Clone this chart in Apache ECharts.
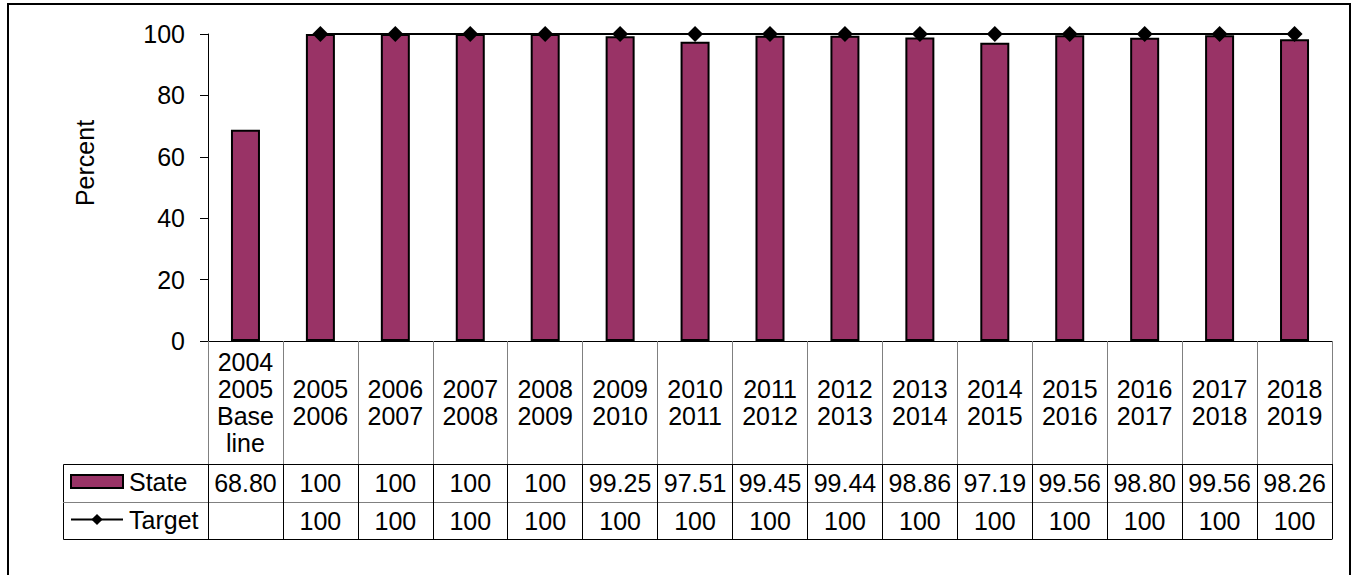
<!DOCTYPE html>
<html>
<head>
<meta charset="utf-8">
<script src="https://cdn.jsdelivr.net/npm/echarts@6/dist/echarts.min.js"></script>
<style>
html,body{margin:0;padding:0;background:#fff;}
#c{width:1353px;height:575px;}
</style>
</head>
<body>
<div id="c"></div>
<script>
// ---- data ----
const categories = ['2004\n2005\nBase\nline','2005\n2006','2006\n2007','2007\n2008','2008\n2009','2009\n2010','2010\n2011','2011\n2012','2012\n2013','2013\n2014','2014\n2015','2015\n2016','2016\n2017','2017\n2018','2018\n2019'];
const stateValues = [68.80,100,100,100,100,99.25,97.51,99.45,99.44,98.86,97.19,99.56,98.80,99.56,98.26];
const targetValues = [null,100,100,100,100,100,100,100,100,100,100,100,100,100,100];
const yTicks = [0,20,40,60,80,100];

// ---- layout ----
const FONT = 'Liberation Sans, Arial, sans-serif';
const FS = 25;
const G = {left:208, right:21, top:34, bottom:234};
const W = 1353, H = 575;
const plotBottom = H - G.bottom;      // 341
const labelRowH = 123, stateRowH = 38, targetRowH = 37;
const legendColLeft = 63;

function fmtState(v){ return v === 100 ? '100' : v.toFixed(2); }
function fmtTarget(v){ return v == null ? '' : String(v); }

const chart = echarts.init(document.getElementById('c'), null, {renderer:'svg'});

const baseX = {
  type:'category', data:categories, gridIndex:0, position:'bottom',
  axisLine:{show:false}, axisTick:{show:false},
  axisLabel:{show:false}, splitLine:{show:false}
};

const option = {
  animation:false,
  backgroundColor:'#fff',
  textStyle:{fontFamily:FONT},
  grid:{left:G.left, right:G.right, top:G.top, bottom:G.bottom, containLabel:false},
  legend:[
    {data:[{name:'State', icon:'rect'}], orient:'horizontal', left:70, top:plotBottom+labelRowH+5, padding:0,
     itemWidth:52, itemHeight:13, itemGap:0, selectedMode:false,
     textStyle:{fontSize:FS, color:'#000', fontFamily:FONT, padding:[0,0,0,1]}},
    {data:['Target'], orient:'horizontal', left:70, top:plotBottom+labelRowH+stateRowH+5, padding:0,
     itemWidth:52, itemHeight:14, itemGap:0, selectedMode:false,
     textStyle:{fontSize:FS, color:'#000', fontFamily:FONT, padding:[0,0,0,1]}}
  ],
  xAxis:[
    Object.assign({}, baseX, {
      axisLine:{show:true, lineStyle:{color:'#000', width:1}},
      axisTick:{show:true, interval:0, alignWithLabel:false, length:labelRowH, lineStyle:{color:'#808080', width:1}},
      axisLabel:{show:true, interval:0, fontSize:FS, lineHeight:27, color:'#000', fontFamily:FONT,
                 verticalAlign:'middle', margin:labelRowH/2}
    }),
    Object.assign({}, baseX, {
      offset:labelRowH,
      axisLine:{show:true, lineStyle:{color:'#000', width:1}},
      axisTick:{show:true, interval:0, alignWithLabel:false, length:stateRowH+targetRowH, lineStyle:{color:'#000', width:1}},
      axisLabel:{show:true, interval:0, fontSize:FS, color:'#000', fontFamily:FONT, verticalAlign:'middle', margin:stateRowH/2,
                 formatter:function(v, i){ return fmtState(stateValues[i]); }}
    }),
    Object.assign({}, baseX, {
      offset:labelRowH+stateRowH,
      axisLine:{show:true, lineStyle:{color:'#808080', width:1}},
      axisLabel:{show:true, interval:0, fontSize:FS, color:'#000', fontFamily:FONT, verticalAlign:'middle', margin:targetRowH/2,
                 formatter:function(v, i){ return fmtTarget(targetValues[i]); }}
    }),
    Object.assign({}, baseX, {
      offset:labelRowH+stateRowH+targetRowH,
      axisLine:{show:true, lineStyle:{color:'#000', width:1}}
    })
  ],
  yAxis:{
    type:'value', min:yTicks[0], max:yTicks[yTicks.length-1], interval:yTicks[1]-yTicks[0],
    axisLine:{show:true, lineStyle:{color:'#000', width:1}},
    axisTick:{show:true, length:8, lineStyle:{color:'#000'}},
    axisLabel:{fontSize:FS, color:'#000', fontFamily:FONT, margin:23},
    splitLine:{show:false}
  },
  series:[
    {name:'State', type:'bar', data:stateValues, xAxisIndex:0, barWidth:29,
     itemStyle:{color:'#993366', borderColor:'#000', borderWidth:2}},
    {name:'Target', type:'line', data:targetValues, xAxisIndex:0, symbol:'diamond', symbolSize:16,
     itemStyle:{color:'#000'}, lineStyle:{color:'#000', width:2}, z:5}
  ],
  graphic:[
    {type:'rect', silent:true, shape:{x:8, y:4, width:1342, height:620},
     style:{fill:'none', stroke:'#000', lineWidth:2}},
    {type:'rect', silent:true, shape:{x:legendColLeft+0.5, y:plotBottom+labelRowH+0.5, width:G.left-legendColLeft, height:stateRowH+targetRowH},
     style:{fill:'none', stroke:'#000', lineWidth:1}},
    {type:'line', silent:true, shape:{x1:legendColLeft, y1:plotBottom+labelRowH+stateRowH+0.5, x2:G.left, y2:plotBottom+labelRowH+stateRowH+0.5},
     style:{stroke:'#808080', lineWidth:1}},
    {type:'text', silent:true, x:85, y:163, rotation:Math.PI/2,
     style:{text:'Percent', fontSize:FS, fontFamily:FONT, fill:'#000', align:'center', verticalAlign:'middle'}}
  ]
};
chart.setOption(option);
</script>
</body>
</html>
